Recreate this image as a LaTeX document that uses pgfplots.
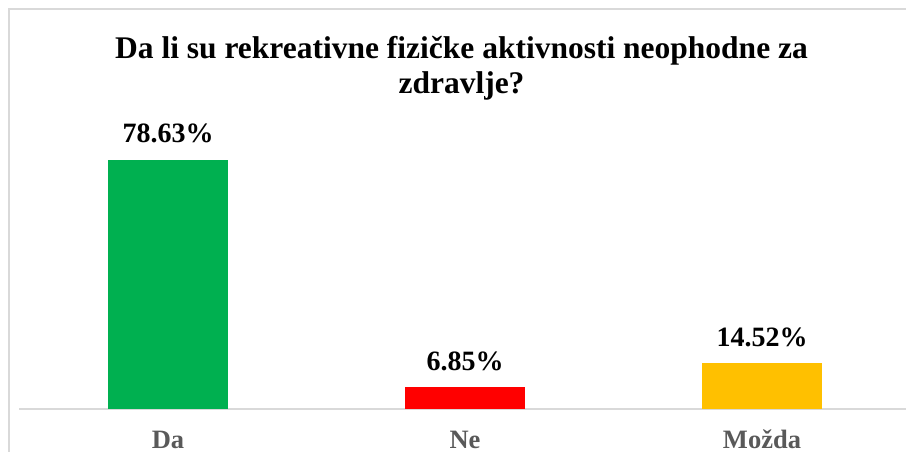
\documentclass[border=0pt]{standalone}
\usepackage{pgfplots}
\pgfplotsset{compat=1.18}
\usepackage{fontspec}
\setmainfont{Liberation Serif}
\definecolor{cgreen}{HTML}{00B050}
\definecolor{cred}{HTML}{FF0000}
\definecolor{cgold}{HTML}{FFC000}
\definecolor{cgrid}{HTML}{D9D9D9}
\definecolor{ctext}{HTML}{595959}
\begin{document}
\begin{tikzpicture}
\useasboundingbox (0,0) rectangle (906pt,452pt);
\clip (0,0) rectangle (906pt,452pt);
\fill[white] (0,0) rectangle (906pt,452pt);
\draw[cgrid, line width=2pt] (9pt,-20pt) -- (9pt,443pt) -- (930pt,443pt);
\node[anchor=base, font=\bfseries\fontsize{31.5}{36}\selectfont] at (461.5pt,393pt) {Da li su rekreativne fizičke aktivnosti neophodne za};
\node[anchor=base, font=\bfseries\fontsize{31.5}{36}\selectfont] at (461.5pt,358pt) {zdravlje?};
\begin{axis}[
  at={(168pt,43pt)}, anchor=origin,
  x=297pt, y=3.167pt,
  xmin=-0.5, xmax=2.5, ymin=0, ymax=95,
  axis y line=none,
  axis x line*=bottom,
  axis line style={cgrid, line width=2pt},
  xtick={0,1,2},
  xticklabels={Da,Ne,Možda},
  major tick length=0pt,
  xticklabel style={anchor=base, yshift=-40pt, text=ctext, font=\bfseries\fontsize{26.5}{30}\selectfont},
  ybar, bar width=120pt, bar shift=0pt,
  /pgf/number format/assume math mode=true,
  nodes near coords={\pgfmathprintnumber[fixed,precision=2,fixed zerofill]{\pgfplotspointmeta}\%},
  every node near coord/.append style={anchor=base, yshift=17pt, text=black, font=\bfseries\fontsize{28}{32}\selectfont},
  clip=false,
]
\addplot[fill=cgreen, draw=none] coordinates {(0,78.63)};
\addplot[fill=cred, draw=none] coordinates {(1,6.85)};
\addplot[fill=cgold, draw=none] coordinates {(2,14.52)};
\end{axis}
\end{tikzpicture}
\end{document}
